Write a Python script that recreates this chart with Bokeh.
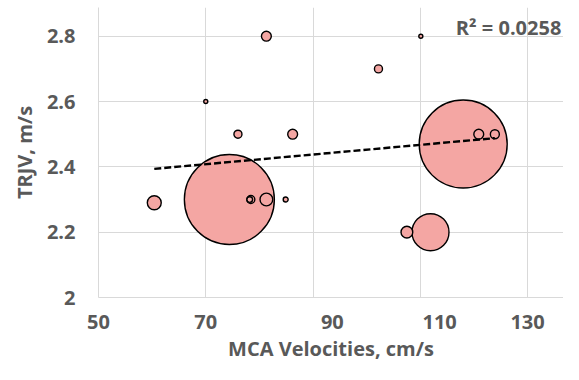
import numpy as np
from bokeh.plotting import figure
from bokeh.models import ColumnDataSource, FixedTicker, Label, Range1d
from bokeh.embed import file_html
from bokeh.resources import INLINE

# ---- data ----
mca_velocity = [70.0, 81.3, 76.0, 86.2, 110.1, 102.2, 118.0, 120.9, 123.9,
                74.4, 60.4, 78.2, 78.4, 81.3, 84.9, 107.5, 111.9]
trjv = [2.6, 2.8, 2.5, 2.5, 2.8, 2.7, 2.47, 2.5, 2.5,
        2.3, 2.29, 2.3, 2.3, 2.3, 2.3, 2.2, 2.2]
bubble_value = [0.2, 1.2, 0.8, 1.2, 0.2, 0.8, 95.6, 1.2, 1.0,
                100.0, 2.4, 0.4, 0.8, 2.0, 0.3, 1.7, 16.9]

trend_x = [60.4, 123.9]
trend_y = [2.394, 2.488]
r_squared_text = "R\u00b2 = 0.0258"

x_ticks = [50, 70, 90, 110, 130]
x_tick_label_pos = [50, 70, 93.6, 113.6, 130]
x_tick_labels = ["50", "70", "90", "110", "130"]
y_ticks = [2.0, 2.2, 2.4, 2.6, 2.8]
y_tick_labels = ["2", "2.2", "2.4", "2.6", "2.8"]

# ---- styling ----
FONT = "Open Sans"
TXT = "#595959"
GRID = "#d9d9d9"
FILL = "#F4A6A3"
MAX_R = 45  # px radius of the largest bubble

order = np.argsort(bubble_value)[::-1]
src = ColumnDataSource(dict(
    x=[mca_velocity[i] for i in order],
    y=[trjv[i] for i in order],
    d=[2 * MAX_R * np.sqrt(bubble_value[i] / max(bubble_value)) for i in order],
))

p = figure(width=563, height=364, output_backend="svg", toolbar_location=None,
           x_range=Range1d(50, 136.7), y_range=Range1d(2.0, 2.888),
           min_border_left=98, min_border_right=0, min_border_top=7,
           min_border_bottom=64)
p.outline_line_color = None
p.background_fill_color = "white"

p.scatter("x", "y", size="d", source=src, fill_color=FILL, fill_alpha=1.0,
          line_color="black", line_width=1.4)

p.line(trend_x, trend_y, line_color="black", line_width=2.4, line_dash="7 3")

p.add_layout(Label(x=136.3, y=2.827, text=r_squared_text, text_align="right",
                   text_baseline="middle", text_font=FONT,
                   text_font_style="bold", text_font_size="20px",
                   text_color=TXT))

# grid
p.xgrid.ticker = FixedTicker(ticks=x_ticks)
p.ygrid.ticker = FixedTicker(ticks=y_ticks)
p.grid.grid_line_color = GRID
p.grid.grid_line_width = 1

# axes
p.xaxis.ticker = FixedTicker(ticks=x_tick_label_pos)
p.xaxis.major_label_overrides = {pos: lab for pos, lab in zip(x_tick_label_pos, x_tick_labels)}
p.yaxis.ticker = FixedTicker(ticks=y_ticks)
p.yaxis.major_label_overrides = {t: lab for t, lab in zip(y_ticks, y_tick_labels)}

p.xaxis.axis_label = "MCA Velocities, cm/s"
p.yaxis.axis_label = "TRJV, m/s"
for ax in (p.xaxis, p.yaxis):
    ax.axis_line_color = GRID
    ax.major_tick_line_color = None
    ax.minor_tick_line_color = None
    ax.major_tick_out = 0
    ax.major_tick_in = 0
    ax.major_label_text_font = FONT
    ax.major_label_text_font_style = "bold"
    ax.major_label_text_font_size = "20px"
    ax.major_label_text_color = TXT
    ax.axis_label_text_font = FONT
    ax.axis_label_text_font_style = "bold"
    ax.axis_label_text_font_size = "20px"
    ax.axis_label_text_color = TXT

p.xaxis.major_label_standoff = 17
p.xaxis.axis_label_standoff = 3
p.yaxis.major_label_standoff = 23
p.yaxis.axis_label_standoff = 6

open("out.html", "w").write(file_html(p, INLINE))
